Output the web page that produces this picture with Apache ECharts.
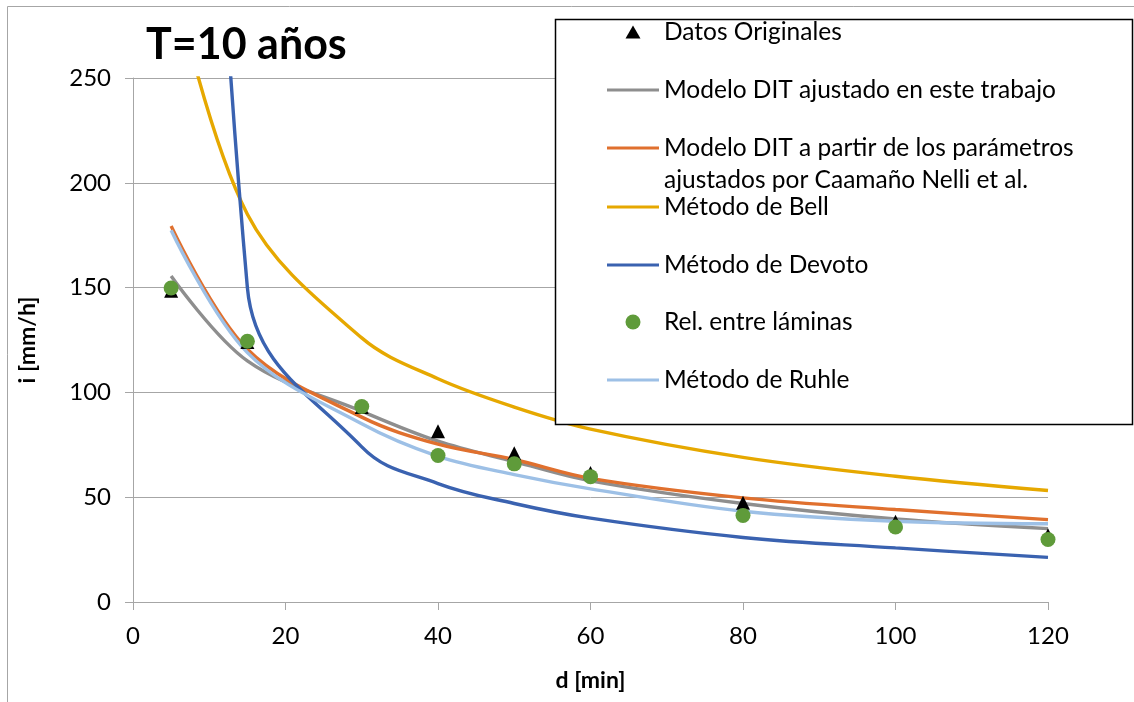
<!DOCTYPE html>
<html>
<head>
<meta charset="utf-8">
<script src="https://cdn.jsdelivr.net/npm/echarts@6/dist/echarts.min.js"></script>
<style>
  html, body { margin: 0; padding: 0; background: #fff; }
  #chart { width: 1134px; height: 702px; }
</style>
</head>
<body>
<div id="chart"></div>
<script>
// Duration (min) of each storm event
const durations = [5, 15, 30, 40, 50, 60, 80, 100, 120];

// Intensities i [mm/h] for a 10-year return period
const datosOriginales = [148.5, 124, 93, 81.5, 71, 61.5, 47.3, 38.3, 31.8];
const ditAjustado     = [155.5, 115, 91, 76.7, 67, 57.8, 47, 39.6, 35];
const ditCaamano      = [179.4, 120.6, 88.2, 75.3, 68, 59, 49.7, 44.1, 39.3];
const metodoBell      = [302, 185, 126, 106.5, 93, 82.5, 69, 60, 53.2];
const metodoDevoto    = [1100, 150, 74, 56.5, 47, 40, 30.8, 25.8, 21.3];
const relLaminas      = [149.8, 124.4, 93.3, 69.9, 65.9, 59.8, 41.3, 35.8, 29.8];
const metodoRuhle     = [177.4, 119, 85, 69.5, 60.8, 54, 43.3, 38.5, 37.3];

const xTicks = { min: 0, max: 120, interval: 20 };
const yTicks = { min: 0, max: 250, interval: 50 };

const FONT = 'Lato';
const pair = arr => durations.map((d, k) => [d, arr[k]]);

const names = {
  datos: 'Datos Originales',
  dit: 'Modelo DIT ajustado en este trabajo',
  caamano: 'Modelo DIT a partir de los parámetros ajustados por Caamaño Nelli et al.',
  bell: 'Método de Bell',
  devoto: 'Método de Devoto',
  rel: 'Rel. entre láminas',
  ruhle: 'Método de Ruhle'
};

function lineSeries(name, data, color, smooth) {
  return {
    name, type: 'line', data: pair(data),
    smooth: smooth, symbol: 'none', clip: true,
    lineStyle: { color, width: 3.4 }, itemStyle: { color },
    z: 3
  };
}

// one legend block per entry so each row sits at its own height;
// marker rows use a small key centred under the line swatches
const legendRows = [
  { name: names.datos, top: 32, icon: 'triangle', w: 15, h: 13 },
  { name: names.dit, top: 90 },
  { name: names.caamano, top: 148, label: 'Modelo DIT a partir de los parámetros' },
  { name: names.bell, top: 207 },
  { name: names.devoto, top: 265 },
  { name: names.rel, top: 322, icon: 'circle', w: 15, h: 15 },
  { name: names.ruhle, top: 380 }
];

const SWATCH_LEFT = 607, SWATCH_W = 52;

const legends = legendRows.map(r => {
  const w = r.w || SWATCH_W;
  const left = SWATCH_LEFT + (SWATCH_W - w) / 2;
  return {
    data: [{ name: r.name, icon: r.icon || 'rect' }],
    left: left, top: r.top - 13, padding: 0,
    itemWidth: w, itemHeight: r.h || 3,
    selectedMode: false, z: 20,
    formatter: r.label ? () => r.label : undefined,
    textStyle: {
      fontFamily: FONT, fontSize: 24.5, color: '#000', lineHeight: 26,
      padding: [0, 0, 0, (SWATCH_W - w) / 2]
    }
  };
});

const chart = echarts.init(document.getElementById('chart'), null, { renderer: 'canvas' });

chart.setOption({
  animation: false,
  backgroundColor: '#fff',
  title: {
    text: 'T=10 años', left: 146, top: 24, padding: 0,
    textStyle: { fontFamily: FONT, fontWeight: 'bold', fontSize: 43, color: '#000' }
  },
  legend: legends,
  grid: { left: 133, right: 86, top: 78, bottom: 100, containLabel: false },
  xAxis: {
    type: 'value', min: xTicks.min, max: xTicks.max, interval: xTicks.interval,
    name: 'd [min]', nameLocation: 'middle', nameGap: 67,
    nameTextStyle: { fontFamily: FONT, fontWeight: 'bold', fontSize: 23, color: '#000' },
    axisLine: { show: true, lineStyle: { color: '#A6A6A6', width: 1 } },
    axisTick: { show: true, length: 8, lineStyle: { color: '#A6A6A6' } },
    axisLabel: { fontFamily: FONT, fontSize: 24, color: '#000', margin: 22 },
    splitLine: { show: false }
  },
  yAxis: {
    type: 'value', min: yTicks.min, max: yTicks.max, interval: yTicks.interval,
    name: 'i [mm/h]', nameLocation: 'middle', nameGap: 94, nameRotate: 90,
    nameTextStyle: { fontFamily: FONT, fontWeight: 'bold', fontSize: 23, color: '#000' },
    axisLine: { show: true, lineStyle: { color: '#A6A6A6', width: 1 } },
    axisTick: { show: true, length: 8, lineStyle: { color: '#A6A6A6' } },
    axisLabel: { fontFamily: FONT, fontSize: 24, color: '#000', margin: 22 },
    splitLine: { show: true, lineStyle: { color: '#A6A6A6', width: 1 } }
  },
  graphic: [
    { type: 'rect', z: 0, silent: true,
      shape: { x: 7.5, y: 6.5, width: 1200, height: 800 },
      style: { fill: 'none', stroke: '#A6A6A6', lineWidth: 1 } },
    { type: 'rect', z: 10, silent: true,
      shape: { x: 555.5, y: 19.5, width: 577, height: 405 },
      style: { fill: '#fff', stroke: '#000', lineWidth: 1.5 } },
    { type: 'text', z: 21, silent: true, left: 664, top: 168,
      style: { text: 'ajustados por Caamaño Nelli et al.', fontFamily: FONT,
               fontSize: 24.5, fill: '#000' } }
  ],
  series: [
    { name: names.datos, type: 'scatter', data: pair(datosOriginales),
      symbol: 'triangle', symbolSize: 14, itemStyle: { color: '#000', opacity: 1 }, z: 4 },
    lineSeries(names.dit, ditAjustado, '#8E8E8E', 0.35),
    lineSeries(names.caamano, ditCaamano, '#E0702E', 0.35),
    lineSeries(names.bell, metodoBell, '#E6A800', 0.35),
    lineSeries(names.devoto, metodoDevoto, '#3A62B0', 0.4),
    { name: names.rel, type: 'scatter', data: pair(relLaminas),
      symbol: 'circle', symbolSize: 15, itemStyle: { color: '#5F9B3A', opacity: 1 }, z: 5 },
    lineSeries(names.ruhle, metodoRuhle, '#9DC0E6', 0.35)
  ]
});
</script>
</body>
</html>
